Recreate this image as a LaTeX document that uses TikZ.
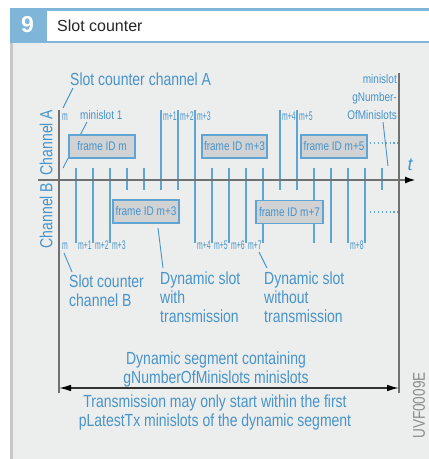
\documentclass[tikz,border=0pt]{standalone}
\usepackage{fontspec}
\setmainfont{Liberation Sans}
\newfontfamily\condf[FakeStretch=0.8]{Liberation Sans}
\newfontfamily\narrf[FakeStretch=0.55]{Liberation Sans}
\usetikzlibrary{arrows.meta}
\definecolor{bgray}{RGB}{236,237,237}
\definecolor{hblue}{RGB}{127,181,217}
\definecolor{tblue}{RGB}{72,148,202}
\definecolor{lblue}{RGB}{96,164,212}
\definecolor{agray}{RGB}{112,112,112}
\definecolor{fgray}{RGB}{209,210,212}
\definecolor{cgray}{RGB}{140,140,140}
\definecolor{lgray}{RGB}{200,200,200}
\begin{document}
\begin{tikzpicture}[x=1pt,y=-1pt,
  big/.style={font=\condf\fontsize{17.5}{19}\selectfont, text=tblue, inner sep=0pt},
  small/.style={font=\condf\fontsize{12.5}{18}\selectfont, text=tblue, inner sep=0pt},
  idx/.style={font=\narrf\fontsize{12.5}{14}\selectfont, text=tblue, inner sep=0pt},
  framebox/.style={draw=lblue, line width=1.5pt, fill=fgray, font=\condf\fontsize{12.5}{14}\selectfont, text=tblue, minimum height=23pt, inner sep=0pt},
  axisline/.style={draw=agray, line width=2pt},
  tickline/.style={draw=lblue, line width=1.5pt},
  pointer/.style={draw=tblue, line width=0.9pt},
  dotline/.style={draw=lblue, line width=1.3pt, dash pattern=on 1.3pt off 2.6pt},
]
\useasboundingbox (0,0) rectangle (429,459);
% header and background
\fill[white] (0,0) rectangle (429,459);
\fill[hblue] (10,8) rectangle (429,43);
\fill[white] (47,10.5) rectangle (429,40.5);
\fill[bgray] (10,43) rectangle (429,459);
\fill[lgray] (10,43) rectangle (12.5,459);
\node[font=\bfseries\fontsize{23}{25}\selectfont, text=white, inner sep=0pt] (num) at (27.5,24.5) {9};
\node[font=\fontsize{16}{18}\selectfont, text=black!85, anchor=west, inner sep=0pt] (title) at (57,25.5) {Slot counter};

% pointer lines (behind boxes)
\coordinate (pA1) at (73,88);   \coordinate (pA2) at (63,108);
\coordinate (pm1) at (87,122);  \coordinate (pm2) at (63,168);
\coordinate (pg1) at (383,122); \coordinate (pg2) at (388,166);
\coordinate (pB1) at (64,253);  \coordinate (pB2) at (72,272);
\coordinate (pw1) at (158,228); \coordinate (pw2) at (163,268);
\coordinate (po1) at (259,252); \coordinate (po2) at (267,268);
\draw[pointer] (pA1) -- (pA2);
\draw[pointer] (pm1) -- (pm2);
\draw[pointer] (pg1) -- (pg2);
\draw[pointer] (pB1) -- (pB2);
\draw[pointer] (pw1) -- (pw2);
\draw[pointer] (po1) -- (po2);

% channel A ticks
\foreach \k in {1,2,3,4,5,9,10,11,12,15,16,17,18,19}
  \draw[tickline] ({59+17*\k},168) -- ({59+17*\k},180);
\foreach \k in {6,7,8,13,14}
  \draw[tickline] ({59+17*\k},110) -- ({59+17*\k},180);
% channel B ticks
\foreach \k in {4,5,6,7,13,14,19}
  \draw[tickline] ({59+17*\k},180) -- ({59+17*\k},190);
\foreach \k in {1,2,3,8,9,10,11,12,15,16,17,18}
  \draw[tickline] ({59+17*\k},180) -- ({59+17*\k},243);

% dotted continuations
\draw[dotline] (370,143) -- (398,143);
\draw[dotline] (370,212) -- (398,212);

% axes
\draw[axisline] (59,110) -- (59,393);
\draw[axisline] (399,73) -- (399,393);
\draw[axisline, -{Latex[length=11pt,width=7pt,color=black]}] (38,180) -- (416,180);
\node[font=\itshape\fontsize{18}{20}\selectfont, text=tblue, inner sep=0pt] (t) at (410,165) {t};

% frame boxes
\node[framebox, minimum width=66pt] (fm)  at (102,146.5)   {frame ID m};
\node[framebox, minimum width=65pt] (fa3) at (234.5,146.5) {frame ID m+3};
\node[framebox, minimum width=66pt] (fa5) at (334,146.5)   {frame ID m+5};
\node[framebox, minimum width=66pt] (fb3) at (146,211.5)   {frame ID m+3};
\node[framebox, minimum width=67pt] (fb7) at (289.5,212)   {frame ID m+7};

% slot counter labels
\node[idx, anchor=base west] (am) at (62,120) {m};
\foreach \k/\t in {6/m+1,7/m+2,8/m+3,13/m+4,14/m+5}
  \node[idx, anchor=base west] (a\k) at ({61+17*\k},120) {\t};
\node[idx, anchor=base west] (bm) at (62,249) {m};
\foreach \k/\t in {1/m+1,2/m+2,3/m+3,8/m+4,9/m+5,10/m+6,11/m+7,17/m+8}
  \node[idx, anchor=base west] (b\k) at ({61+17*\k},249) {\t};

% small texts
\node[small, anchor=base west] (ms1) at (80,119.5) {minislot 1};
\node[small, anchor=north east, align=right] (msg) at (397,74) {minislot\\gNumber-\\OfMinislots};

% channel labels
\node[big, rotate=90] (cha) at (46,142.5) {Channel A};
\node[big, rotate=90] (chb) at (46,215.5) {Channel B};

% big texts
\node[big, anchor=base west] (sca) at (70,85) {Slot counter channel A};
\node[big, anchor=north west, align=left] (scb) at (69,275) {Slot counter\\channel B};
\node[big, anchor=north west, align=left] (dsw) at (160,272) {Dynamic slot\\with\\transmission};
\node[big, anchor=north west, align=left] (dso) at (264,272) {Dynamic slot\\without\\transmission};
\node[big, anchor=north, align=center] (seg) at (216,352) {Dynamic segment containing\\gNumberOfMinislots minislots};
\node[big, anchor=north, align=center] (trm) at (215,395) {Transmission may only start within the first\\pLatestTx minislots of the dynamic segment};

% dimension line
\coordinate (dl) at (59,388);
\coordinate (dr) at (399,388);
\draw[black!80, line width=1.3pt, {Latex[length=12pt,width=6.5pt,color=black]}-{Latex[length=12pt,width=6.5pt,color=black]}] (dl) -- (dr);

% code
\node[font=\condf\fontsize{17}{19}\selectfont, text=cgray, rotate=90, inner sep=0pt] (code) at (419,405.5) {UVF0009E};
\end{tikzpicture}
\end{document}
